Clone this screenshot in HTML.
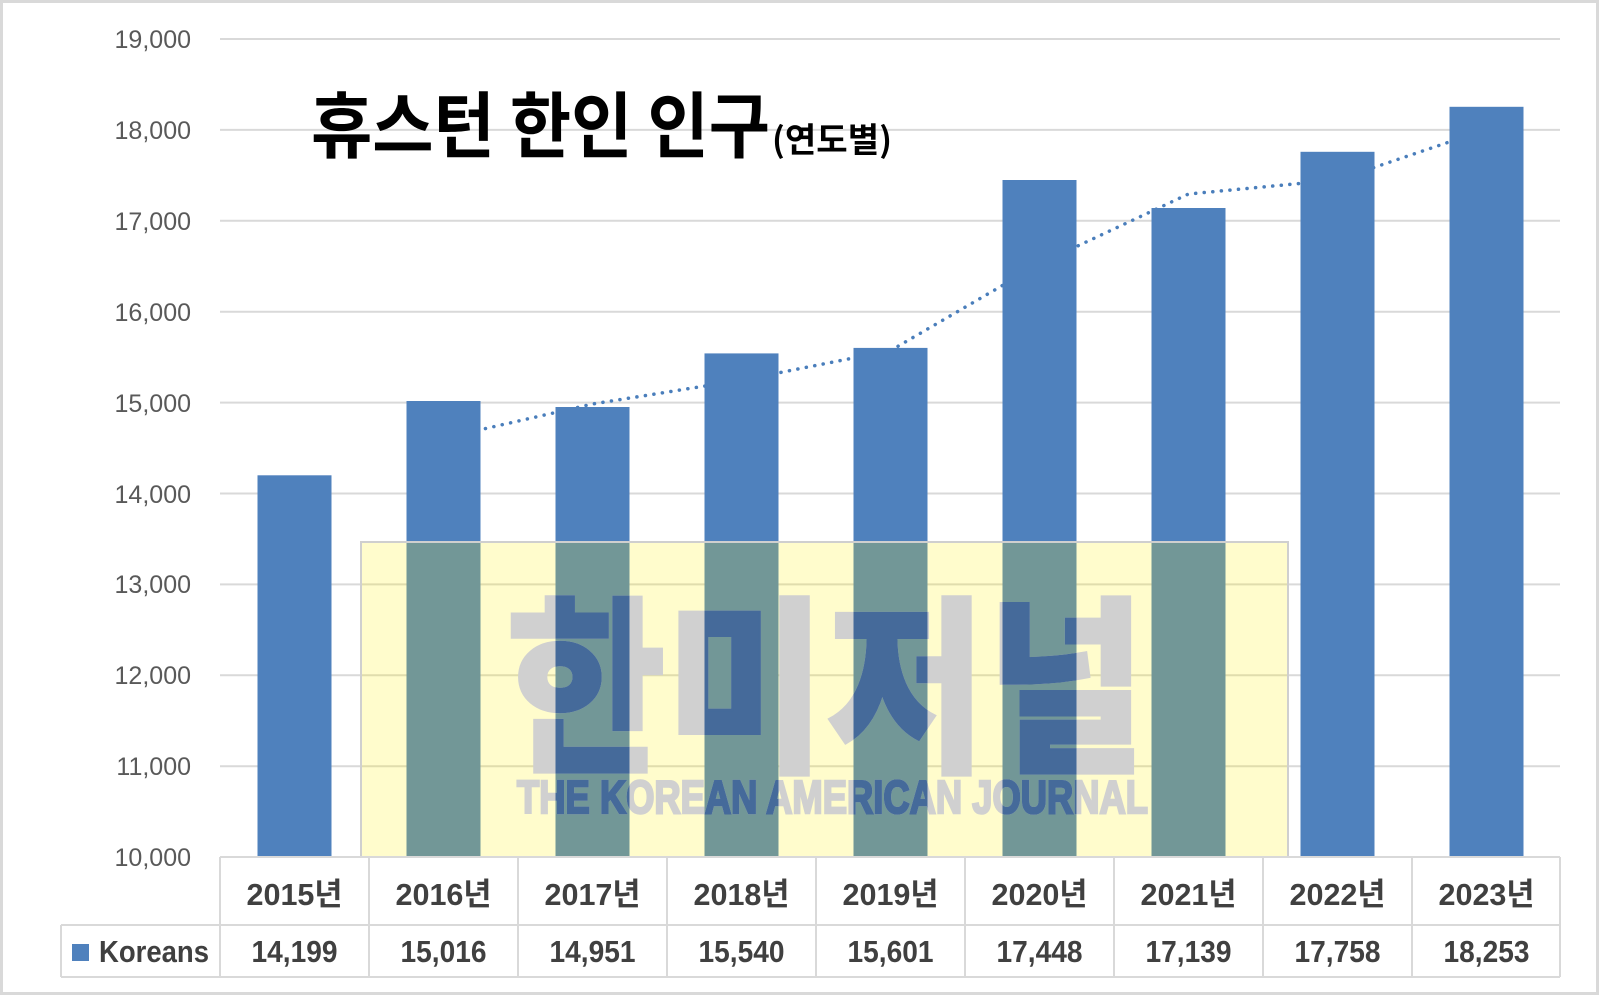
<!DOCTYPE html>
<html><head><meta charset="utf-8"><style>
html,body{margin:0;padding:0;background:#fff;}
svg{display:block;}
</style></head><body>
<svg width="1600" height="996" viewBox="0 0 1600 996" xmlns="http://www.w3.org/2000/svg">
<defs>
<clipPath id="bars">
<rect x="257.5" y="475.3" width="74" height="381.7"/>
<rect x="406.5" y="401" width="74" height="456"/>
<rect x="555.5" y="407" width="74" height="450"/>
<rect x="704.5" y="353.4" width="74" height="503.6"/>
<rect x="853.5" y="347.9" width="74" height="509.1"/>
<rect x="1002.5" y="180" width="74" height="677"/>
<rect x="1151.5" y="208" width="74" height="649"/>
<rect x="1300.5" y="151.8" width="74" height="705.2"/>
<rect x="1449.5" y="106.8" width="74" height="750.2"/>
</clipPath>
</defs>
<rect x="1.5" y="1.5" width="1596" height="992" fill="#fff" stroke="#d9d9d9" stroke-width="3"/>
<g stroke="#d9d9d9" stroke-width="2">
<line x1="220" x2="1560" y1="39" y2="39"/>
<line x1="220" x2="1560" y1="129.9" y2="129.9"/>
<line x1="220" x2="1560" y1="220.8" y2="220.8"/>
<line x1="220" x2="1560" y1="311.7" y2="311.7"/>
<line x1="220" x2="1560" y1="402.6" y2="402.6"/>
<line x1="220" x2="1560" y1="493.5" y2="493.5"/>
<line x1="220" x2="1560" y1="584.4" y2="584.4"/>
<line x1="220" x2="1560" y1="675.3" y2="675.3"/>
<line x1="220" x2="1560" y1="766.2" y2="766.2"/>
</g>
<g font-family="Liberation Sans, sans-serif" font-size="25" fill="#595959" text-anchor="end">
<text x="191" y="48">19,000</text>
<text x="191" y="139">18,000</text>
<text x="191" y="230">17,000</text>
<text x="191" y="321">16,000</text>
<text x="191" y="412">15,000</text>
<text x="191" y="503">14,000</text>
<text x="191" y="593">13,000</text>
<text x="191" y="684">12,000</text>
<text x="191" y="775">11,000</text>
<text x="191" y="866">10,000</text>
</g>
<polyline points="443.5,438.2 592.5,404 741.5,380.2 890.5,350.6 1039.5,263.9 1188.5,194 1337.5,179.9 1486.5,129.3" fill="none" stroke="#4a7ebb" stroke-width="3.5" stroke-linecap="round" stroke-dasharray="0.1 8.5"/>
<g fill="#4f81bd">
<rect x="257.5" y="475.3" width="74" height="381.7"/>
<rect x="406.5" y="401" width="74" height="456"/>
<rect x="555.5" y="407" width="74" height="450"/>
<rect x="704.5" y="353.4" width="74" height="503.6"/>
<rect x="853.5" y="347.9" width="74" height="509.1"/>
<rect x="1002.5" y="180" width="74" height="677"/>
<rect x="1151.5" y="208" width="74" height="649"/>
<rect x="1300.5" y="151.8" width="74" height="705.2"/>
<rect x="1449.5" y="106.8" width="74" height="750.2"/>
</g>
<rect x="361" y="542" width="927" height="315" fill="rgba(255,240,0,0.2)" stroke="#cfcfcf" stroke-width="2"/>
<g font-family="Noto Sans CJK KR, sans-serif" font-weight="900" fill="#d0d0d0" stroke="#d0d0d0">
<text x="506" y="757" font-size="190" stroke-width="2.5" textLength="640" lengthAdjust="spacingAndGlyphs">한미저널</text>
<text x="517" y="813" font-family="Liberation Sans, sans-serif" font-weight="bold" font-size="46" stroke-width="2.5" textLength="631" lengthAdjust="spacingAndGlyphs">THE KOREAN AMERICAN JOURNAL</text>
</g>
<g clip-path="url(#bars)" font-family="Noto Sans CJK KR, sans-serif" font-weight="900" fill="#456a9a" stroke="#456a9a">
<text x="506" y="757" font-size="190" stroke-width="2.5" textLength="640" lengthAdjust="spacingAndGlyphs">한미저널</text>
<text x="517" y="813" font-family="Liberation Sans, sans-serif" font-weight="bold" font-size="46" stroke-width="2.5" textLength="631" lengthAdjust="spacingAndGlyphs">THE KOREAN AMERICAN JOURNAL</text>
</g>
<text x="311" y="152" font-family="Noto Sans CJK KR, sans-serif" font-weight="bold" font-size="72" fill="#000" textLength="459" lengthAdjust="spacingAndGlyphs">휴스턴 한인 인구</text>
<text x="772" y="152" font-family="Noto Sans CJK KR, sans-serif" font-weight="bold" font-size="34" fill="#000" textLength="120" lengthAdjust="spacingAndGlyphs">(연도별)</text>
<g stroke="#d9d9d9" stroke-width="2" fill="none">
<line x1="220" x2="1560" y1="857" y2="857"/>
<line x1="61" x2="1560" y1="925" y2="925"/>
<line x1="61" x2="1560" y1="977" y2="977"/>
<line x1="61" x2="61" y1="925" y2="977"/>
<line x1="220" x2="220" y1="857" y2="977"/>
<line x1="369" x2="369" y1="857" y2="977"/>
<line x1="518" x2="518" y1="857" y2="977"/>
<line x1="667" x2="667" y1="857" y2="977"/>
<line x1="816" x2="816" y1="857" y2="977"/>
<line x1="965" x2="965" y1="857" y2="977"/>
<line x1="1114" x2="1114" y1="857" y2="977"/>
<line x1="1263" x2="1263" y1="857" y2="977"/>
<line x1="1412" x2="1412" y1="857" y2="977"/>
<line x1="1560" x2="1560" y1="857" y2="977"/>
</g>
<g font-family="Liberation Sans, Noto Sans CJK KR, sans-serif" font-weight="bold" font-size="31" fill="#404040" text-anchor="middle">
<text x="294.5" y="905" textLength="96" lengthAdjust="spacingAndGlyphs">2015년</text>
<text x="443.5" y="905" textLength="96" lengthAdjust="spacingAndGlyphs">2016년</text>
<text x="592.5" y="905" textLength="96" lengthAdjust="spacingAndGlyphs">2017년</text>
<text x="741.5" y="905" textLength="96" lengthAdjust="spacingAndGlyphs">2018년</text>
<text x="890.5" y="905" textLength="96" lengthAdjust="spacingAndGlyphs">2019년</text>
<text x="1039.5" y="905" textLength="96" lengthAdjust="spacingAndGlyphs">2020년</text>
<text x="1188.5" y="905" textLength="96" lengthAdjust="spacingAndGlyphs">2021년</text>
<text x="1337.5" y="905" textLength="96" lengthAdjust="spacingAndGlyphs">2022년</text>
<text x="1486.5" y="905" textLength="96" lengthAdjust="spacingAndGlyphs">2023년</text>
<text x="294.5" y="962" textLength="86" lengthAdjust="spacingAndGlyphs">14,199</text>
<text x="443.5" y="962" textLength="86" lengthAdjust="spacingAndGlyphs">15,016</text>
<text x="592.5" y="962" textLength="86" lengthAdjust="spacingAndGlyphs">14,951</text>
<text x="741.5" y="962" textLength="86" lengthAdjust="spacingAndGlyphs">15,540</text>
<text x="890.5" y="962" textLength="86" lengthAdjust="spacingAndGlyphs">15,601</text>
<text x="1039.5" y="962" textLength="86" lengthAdjust="spacingAndGlyphs">17,448</text>
<text x="1188.5" y="962" textLength="86" lengthAdjust="spacingAndGlyphs">17,139</text>
<text x="1337.5" y="962" textLength="86" lengthAdjust="spacingAndGlyphs">17,758</text>
<text x="1486.5" y="962" textLength="86" lengthAdjust="spacingAndGlyphs">18,253</text>
</g>
<rect x="72" y="944" width="17" height="17" fill="#4f81bd"/>
<text x="99" y="962" font-family="Liberation Sans, sans-serif" font-weight="bold" font-size="31" fill="#404040" textLength="110" lengthAdjust="spacingAndGlyphs">Koreans</text>
</svg>
</body></html>
